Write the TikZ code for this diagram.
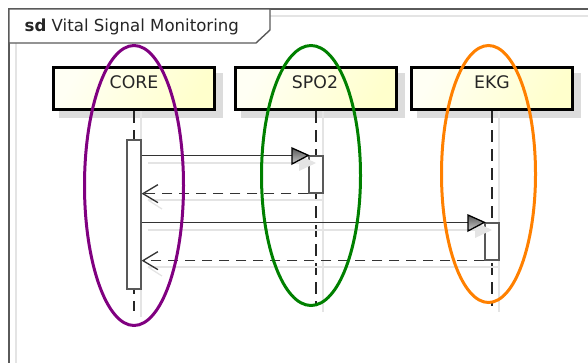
\documentclass[tikz,border=0pt]{standalone}
\usepackage{fontspec}
\setmainfont{DejaVu Sans}
\usetikzlibrary{arrows.meta}

\definecolor{frameC}{HTML}{5A5A5A}
\definecolor{shadowC}{HTML}{DCDCDC}
\definecolor{faintC}{HTML}{E4E4E4}
\definecolor{hdrA}{HTML}{FFFFF4}
\definecolor{hdrB}{HTML}{FFFFCC}
\definecolor{ringP}{HTML}{800080}
\definecolor{ringG}{HTML}{008000}
\definecolor{ringO}{HTML}{FF8000}

\tikzset{
  hdr/.style={draw=black, line width=3pt, minimum width=161pt, minimum height=42pt,
              inner sep=0pt, left color=hdrA, right color=hdrB, shading angle=60},
  hdrshadow/.style={fill=shadowC, draw=none, minimum width=164pt, minimum height=45pt, inner sep=0pt},
  hdrtext/.style={font=\fontsize{17.3}{20}\selectfont, text=black!85, inner sep=0pt},
  lifeline/.style={draw=black!85, line width=1.4pt, dash pattern=on 12pt off 7pt},
  lifeshadow/.style={draw=faintC, line width=1.3pt},
  bar/.style={draw=black!65, fill=white, line width=1.3pt, minimum width=14pt, inner sep=0pt},
  msg/.style={draw=black!80, line width=1.3pt},
  ret/.style={draw=black!80, line width=1.3pt, dash pattern=on 10pt off 7pt,
              -{Straight Barb[length=15pt, width=18pt, line width=1.3pt]}},
  msgshadow/.style={draw=faintC, line width=1.3pt},
  ring/.style={line width=3pt},
}

\begin{document}
\begin{tikzpicture}[x=1pt, y=-1pt]
\useasboundingbox (0,0) rectangle (588,362);
\clip (0,0) rectangle (588,362);

% frame with its faint inner edge
\draw[faintC, line width=1.3pt] (16,16) -- (600,16);
\draw[faintC, line width=1.3pt] (16,16) -- (16,370);
\draw[frameC, line width=2pt] (9,370) -- (9,9) -- (600,9);

% name tab
\draw[frameC, line width=1.4pt, fill=white] (9,9) -- (270,9) -- (270,30) -- (256,43) -- (9,43) -- cycle;
\node[anchor=west, font=\fontsize{16.6}{19}\selectfont, text=black!85, inner sep=0pt] (title) at (24.5,27)
  {\textbf{sd} Vital Signal Monitoring};

% lifeline heads: shadows, boxes, labels
\node[hdrshadow] (coreSh) at (140.5,95.5) {};
\node[hdrshadow] (spoSh)  at (322.5,95.5) {};
\node[hdrshadow] (ekgSh)  at (498.5,95.5) {};

\node[hdr] (core) at (134,88.5) {};
\node[hdr] (spo)  at (316,88.5) {};
\node[hdr] (ekg)  at (492,88.5) {};

\node[hdrtext] (coreT) at (134,82) {CORE};
\node[hdrtext] (spoT)  at (315,82) {SPO2};
\node[hdrtext] (ekgT)  at (492,82) {EKG};

% lifeline ends
\coordinate (coreEnd) at (134,311);
\coordinate (spoEnd)  at (316,306);
\coordinate (ekgEnd)  at (492,306);

% faint shadows beside the lifelines
\draw[lifeshadow] ([xshift=7pt]core.south) -- ([xshift=7pt,yshift=-6pt]coreEnd);
\draw[lifeshadow] ([xshift=7pt]spo.south) -- ([xshift=7pt,yshift=-6pt]spoEnd);
\draw[lifeshadow] ([xshift=7pt]ekg.south) -- ([xshift=7pt,yshift=-6pt]ekgEnd);

% lifelines
\draw[lifeline] (core.south) -- (coreEnd);
\draw[lifeline] (spo.south) -- (spoEnd);
\draw[lifeline] (ekg.south) -- (ekgEnd);

% activation bars
\node[bar, minimum height=149pt] (coreBar) at (134,214.5) {};
\node[bar, minimum height=37pt]  (spoBar)  at (316,174.5) {};
\node[bar, minimum height=37pt]  (ekgBar)  at (492,241.5) {};

% message shadows
\draw[msgshadow] (148,163) -- (300,163);
\fill[faintC] (299,155) -- (316,163) -- (299,171) -- cycle;
\draw[msgshadow] (148,200) -- (323,200);
\draw[msgshadow] (148,200) -- (162,209);
\draw[msgshadow] (148,230) -- (476,230);
\fill[faintC] (475,222) -- (492,230) -- (475,238) -- cycle;
\draw[msgshadow] (148,267) -- (499,267);
\draw[msgshadow] (148,267) -- (162,276);

% request to SPO2 and its reply
\draw[msg] (spoBar.north west -| coreBar.east) -- (spoBar.north west);
\shade[draw=black, line width=1.3pt, top color=gray!70!black, bottom color=gray!40]
  (292,148) -- (spoBar.north west) -- (292,164) -- cycle;
\draw[ret] (spoBar.south west) -- (spoBar.south west -| coreBar.east);

% request to EKG and its reply
\draw[msg] (ekgBar.north west -| coreBar.east) -- (ekgBar.north west);
\shade[draw=black, line width=1.3pt, top color=gray!70!black, bottom color=gray!40]
  (468,215) -- (ekgBar.north west) -- (468,231) -- cycle;
\draw[ret] (ekgBar.south west) -- (ekgBar.south west -| coreBar.east);

% highlight rings around the lifelines
\draw[ring, ringP] (134,185.5) ellipse [x radius=49.5, y radius=140];
\draw[ring, ringG] (311,175.5) ellipse [x radius=49.5, y radius=130];
\draw[ring, ringO] (488.5,174) ellipse [x radius=47, y radius=128.5];
\end{tikzpicture}
\end{document}
